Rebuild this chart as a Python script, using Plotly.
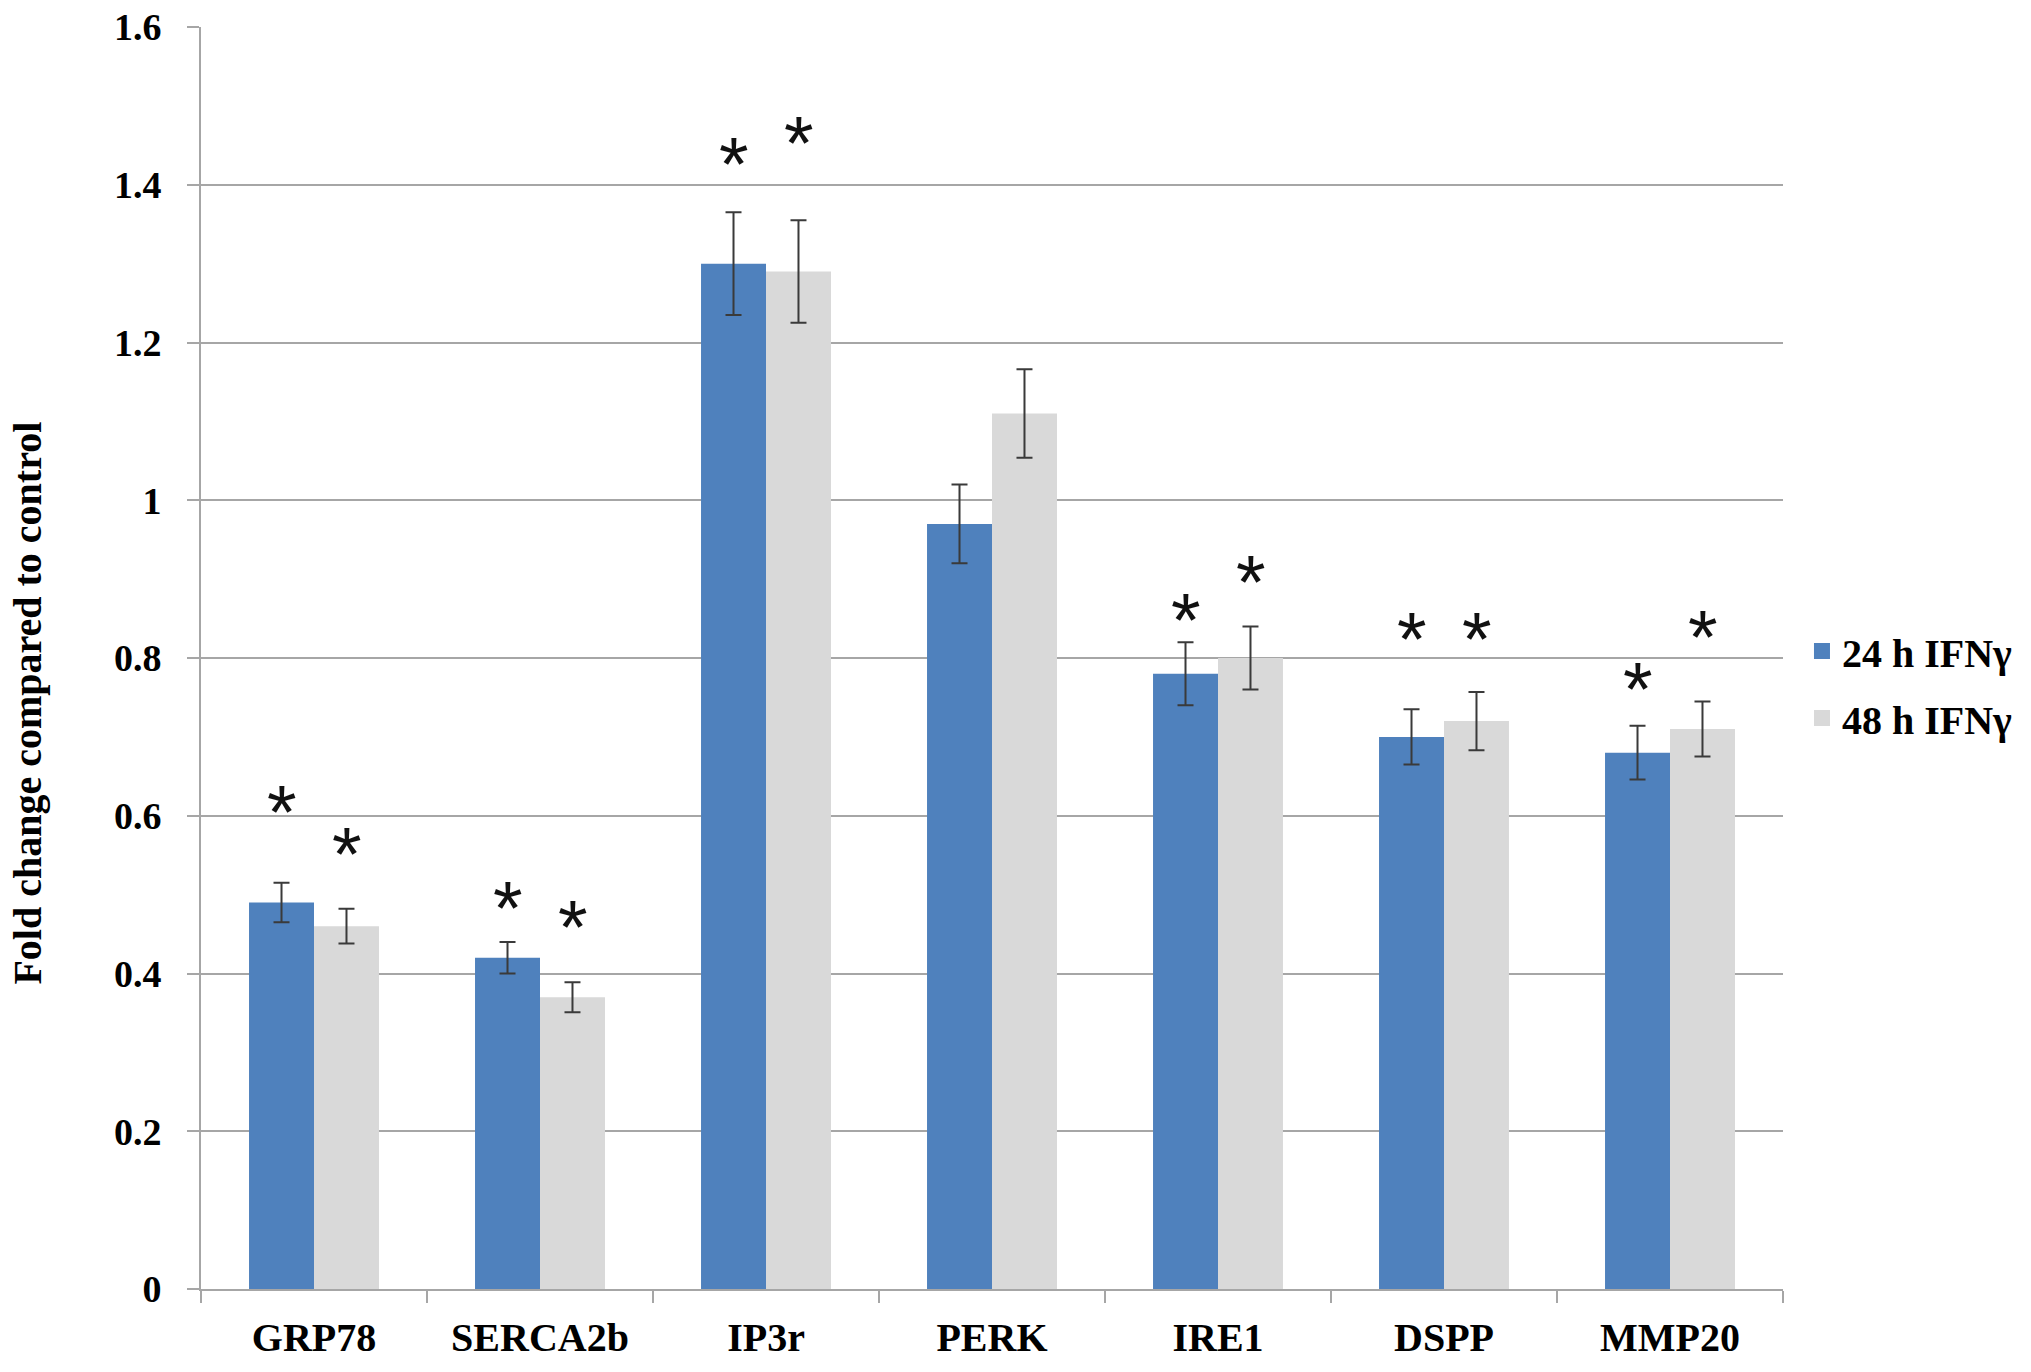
import plotly.graph_objects as go

categories = ["GRP78", "SERCA2b", "IP3r", "PERK", "IRE1", "DSPP", "MMP20"]
series_names = ["24 h IFNγ", "48 h IFNγ"]
values_24h = [0.49, 0.42, 1.30, 0.97, 0.78, 0.70, 0.68]
errors_24h = [0.025, 0.020, 0.065, 0.050, 0.040, 0.035, 0.034]
values_48h = [0.46, 0.37, 1.29, 1.11, 0.80, 0.72, 0.71]
errors_48h = [0.022, 0.019, 0.065, 0.056, 0.040, 0.037, 0.035]
# significance markers: label and height (in axis units)
star_24h = ["*", "*", "*", "", "*", "*", "*"]
star_24h_y = [0.619, 0.498, 1.441, None, 0.863, 0.839, 0.775]
star_48h = ["*", "*", "*", "", "*", "*", "*"]
star_48h_y = [0.566, 0.474, 1.467, None, 0.911, 0.839, 0.841]
y_ticks = [0, 0.2, 0.4, 0.6, 0.8, 1.0, 1.2, 1.4, 1.6]
y_tick_text = ["0", "0.2", "0.4", "0.6", "0.8", "1", "1.2", "1.4", "1.6"]
y_title = "Fold change compared to control"

BLUE = "#4F81BD"
GRAY = "#D9D9D9"
AXIS = "#A6A6A6"
ERR = "#3A3A3A"
SERIF = "Liberation Serif"
BAR_HALF = 32.5  # px offset of each bar centre from the category centre

fig = go.Figure()
for name, vals, errs, color, grp in [
    (series_names[0], values_24h, errors_24h, BLUE, "a"),
    (series_names[1], values_48h, errors_48h, GRAY, "b"),
]:
    fig.add_trace(go.Bar(
        x=categories, y=vals, name=name, marker=dict(color=color, line=dict(width=0)),
        offsetgroup=grp, showlegend=False,
        error_y=dict(type="data", array=errs, visible=True, color=ERR, thickness=2, width=8),
    ))

for i, (name, color) in enumerate([(series_names[0], BLUE), (series_names[1], GRAY)]):
    fig.add_trace(go.Scatter(
        x=[None], y=[None], mode="markers", name=name, legendgroup=f"g{i}",
        marker=dict(symbol="square", size=20, color=color),
    ))

annotations = []
for txt, ys, shift in [(star_24h, star_24h_y, -BAR_HALF), (star_48h, star_48h_y, BAR_HALF)]:
    for cat, t, yv in zip(categories, txt, ys):
        if not t or yv is None:
            continue
        annotations.append(dict(
            x=cat, y=yv, xref="x", yref="y", text=t, showarrow=False,
            xanchor="center", yanchor="middle", xshift=shift, yshift=-11,
            font=dict(family="Liberation Sans", size=76, color="#111111"),
        ))
annotations.append(dict(
    x=-0.1094, y=0.4646, xref="paper", yref="paper", text=y_title, showarrow=False,
    textangle=-90, xanchor="center", yanchor="middle",
    font=dict(family=SERIF, size=40, weight="bold", color="#000000"),
))

fig.update_layout(
    width=2031, height=1372,
    margin=dict(l=201, r=248, t=27, b=73),
    paper_bgcolor="white", plot_bgcolor="white",
    barmode="group", bargap=0.425, bargroupgap=0,
    font=dict(family=SERIF, color="#000000"),
    legend=dict(
        x=1.012, xanchor="left", y=0.479, yanchor="middle",
        font=dict(family=SERIF, size=40, weight="bold", color="#000000"),
        bgcolor="rgba(0,0,0,0)", borderwidth=0, itemwidth=30,
        tracegroupgap=12, traceorder="grouped",
    ),
    showlegend=True,
    annotations=annotations,
)
fig.update_xaxes(
    type="category", showline=True, linecolor=AXIS, linewidth=2,
    ticks="outside", tickson="boundaries", ticklen=12, tickcolor=AXIS, tickwidth=2,
    tickfont=dict(family=SERIF, size=40, weight="bold", color="#000000"),
    showgrid=False, ticklabelstandoff=12,
)
fig.update_yaxes(
    range=[0, 1.6], tickvals=y_ticks, ticktext=y_tick_text,
    showline=True, linecolor=AXIS, linewidth=2,
    ticks="outside", ticklen=12, tickcolor=AXIS, tickwidth=2,
    showgrid=True, gridcolor=AXIS, gridwidth=2, zeroline=False,
    tickfont=dict(family=SERIF, size=38, weight="bold", color="#000000"),
    ticklabelstandoff=18, automargin=False, ticklabeloverflow="allow",
)

fig.write_html(
    "out.html",
    config={"displayModeBar": False},
    post_script="document.body.style.margin='0';document.body.style.overflow='hidden';",
)
